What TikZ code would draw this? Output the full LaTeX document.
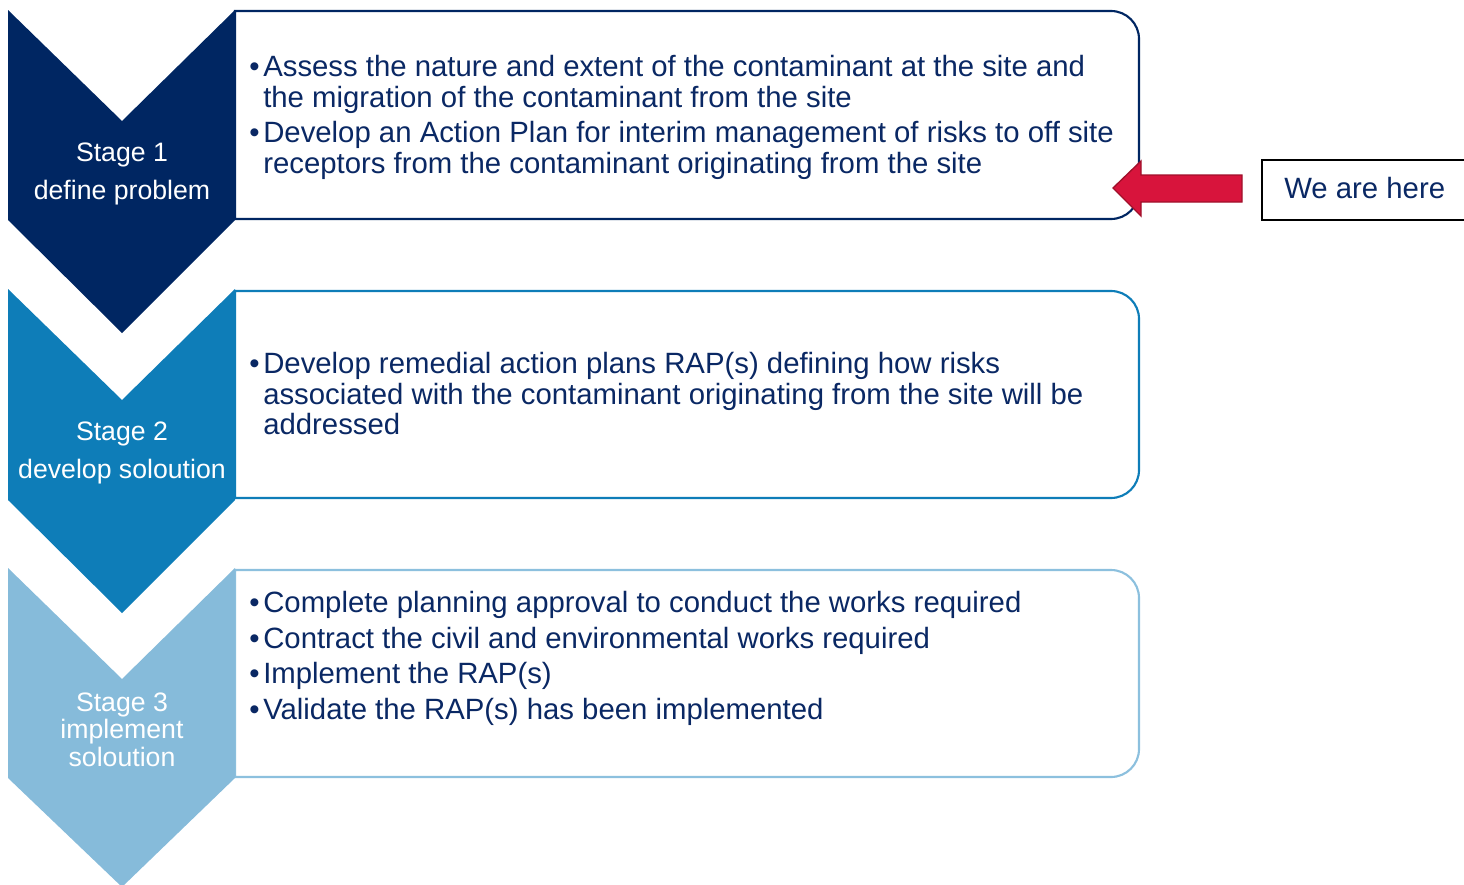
\documentclass[tikz,border=0pt]{standalone}
\usepackage{fontspec}
\setmainfont{Liberation Sans}
\definecolor{navy}{RGB}{0,38,98}
\definecolor{txt}{RGB}{10,40,100}
\definecolor{midblue}{RGB}{14,125,184}
\definecolor{lightblue}{RGB}{134,187,218}
\definecolor{lightline}{RGB}{140,192,222}
\definecolor{arrowred}{RGB}{216,20,60}
\definecolor{arrowdark}{RGB}{160,16,42}
\begin{document}
\begin{tikzpicture}[x=0.75pt,y=-0.75pt,
  txtline/.style={anchor=base west,inner sep=0pt,text=txt,font=\fontsize{22}{26}\selectfont},
  bul/.style={anchor=base west,inner sep=0pt,text=txt,font=\fontsize{22}{26}\selectfont},
  stagetxt/.style={anchor=base,inner sep=0pt,text=white,font=\fontsize{20}{24}\selectfont},
  infobox/.style={line width=1.6pt,fill=white}]
\useasboundingbox (0,0) rectangle (1464,885);
% boxes
\draw[infobox,draw=navy] (235,11) -- (1111,11) arc[start angle=-90,end angle=0,radius=28] -- (1139,191) arc[start angle=0,end angle=90,radius=28] -- (235,219) -- cycle;
\draw[infobox,draw=midblue] (235,291) -- (1111,291) arc[start angle=-90,end angle=0,radius=28] -- (1139,470) arc[start angle=0,end angle=90,radius=28] -- (235,498) -- cycle;
\draw[infobox,draw=lightline] (235,570) -- (1111,570) arc[start angle=-90,end angle=0,radius=28] -- (1139,749) arc[start angle=0,end angle=90,radius=28] -- (235,777) -- cycle;
% chevrons
\fill[navy] (8,10) -- (122,121) -- (235,10) -- (235,220) -- (122,333) -- (8,220) -- cycle;
\fill[midblue] (8,289) -- (122,400) -- (235,289) -- (235,500) -- (122,613) -- (8,500) -- cycle;
\fill[lightblue] (8,568) -- (122,679) -- (235,568) -- (235,778) -- (122,887) -- (8,778) -- cycle;
% stage labels
\node[stagetxt] (s1a) at (122,161) {Stage 1};
\node[stagetxt] (s1b) at (122,199) {define problem};
\node[stagetxt] (s2a) at (122,440) {Stage 2};
\node[stagetxt] (s2b) at (122,478) {develop soloution};
\node[stagetxt] (s3a) at (122,711) {Stage 3};
\node[stagetxt] (s3b) at (122,738) {implement};
\node[stagetxt] (s3c) at (122,766) {soloution};
% box 1 text
\node[bul] (b11) at (249,76) {•};
\node[txtline] (t11) at (263,76) {Assess the nature and extent of the contaminant at the site and};
\node[txtline] (t12) at (263,107) {the migration of the contaminant from the site};
\node[bul] (b12) at (249,142) {•};
\node[txtline] (t13) at (263,142) {Develop an Action Plan for interim management of risks to off site};
\node[txtline] (t14) at (263,173) {receptors from the contaminant originating from the site};
% box 2 text
\node[bul] (b21) at (249,373) {•};
\node[txtline] (t21) at (263,373) {Develop remedial action plans RAP(s) defining how risks};
\node[txtline] (t22) at (263,404) {associated with the contaminant originating from the site will be};
\node[txtline] (t23) at (263,434) {addressed};
% box 3 text
\node[bul] (b31) at (249,612) {•};
\node[txtline] (t31) at (263,612) {Complete planning approval to conduct the works required};
\node[bul] (b32) at (249,648) {•};
\node[txtline] (t32) at (263,648) {Contract the civil and environmental works required};
\node[bul] (b33) at (249,683) {•};
\node[txtline] (t33) at (263,683) {Implement the RAP(s)};
\node[bul] (b34) at (249,719) {•};
\node[txtline] (t34) at (263,719) {Validate the RAP(s) has been implemented};
% we are here
\draw[line width=1.4pt,black,fill=white] (1262,160) -- (1470,160) -- (1470,220) -- (1262,220) -- cycle;
\node[txtline] (here) at (1284,198) {We are here};
% red arrow
\draw[fill=arrowred,draw=arrowdark,line width=1pt,line join=miter] (1113,188) -- (1141,161) -- (1141,175) -- (1242,175) -- (1242,202) -- (1141,202) -- (1141,216) -- cycle;
\end{tikzpicture}
\end{document}
